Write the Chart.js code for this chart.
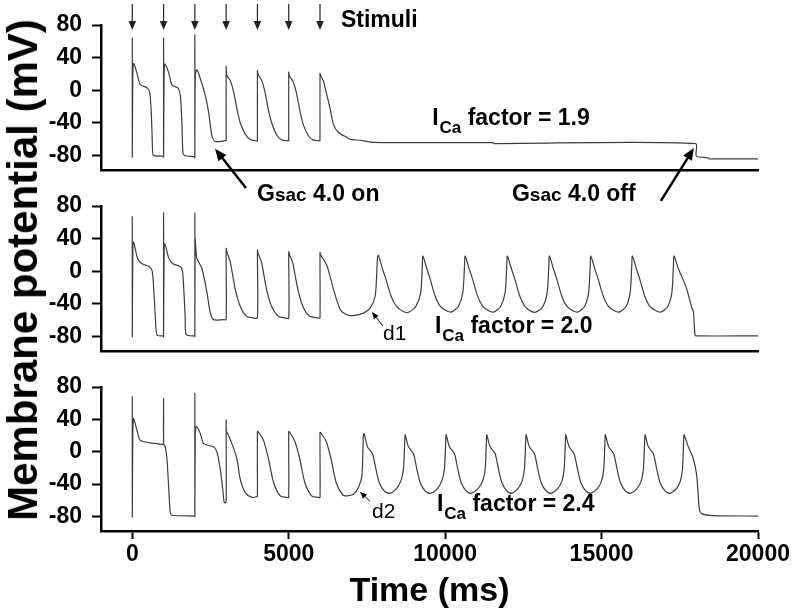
<!DOCTYPE html>
<html>
<head>
<meta charset="utf-8">
<script src="https://cdn.jsdelivr.net/npm/chart.js@4.4.1/dist/chart.umd.min.js"></script>
<style>
  body { margin: 0; background: #fff; }
  #wrap { position: relative; width: 800px; height: 614px; overflow: hidden; }
  canvas { position: absolute; left: 0; }
  #ytitle {
    position: absolute; left: 23px; top: 270px;
    transform: translate(-50%, -50%) rotate(-90deg);
    white-space: nowrap;
    font: bold 42px "Liberation Sans", Arial, sans-serif;
    color: #000;
  }
</style>
</head>
<body>
<div id="wrap">
  <canvas id="p1" width="800" height="215" style="top:0px"></canvas>
  <canvas id="p2" width="800" height="215" style="top:181px"></canvas>
  <canvas id="p3" width="800" height="252" style="top:362px"></canvas>
  <div id="ytitle">Membrane potential (mV)</div>
</div>
<script>
const stimTimes = [0, 1000, 2000, 3000, 4000, 5000, 6000];
const xTicks = [0, 5000, 10000, 15000, 20000];
const yTicks = [-80, -40, 0, 40, 80];
const caFactors = ['1.9', '2.0', '2.4'];

// [time (ms), Vm (mV)]
const vmFactor19 = [
  [0, -81], [0, 64], [0, -82], [15, 12], [40, 33], [150, 21], [255, 7], [470, 3], [555, -2], [600, -23], [630, -51], [650, -76], [680, -80], [950, -81],
  [1000, -81], [1000, 64], [1000, -82], [1015, 12], [1040, 32], [1160, 22], [1270, 6], [1450, 3], [1535, -6], [1590, -44], [1620, -77], [1690, -80.5], [1960, -81.5],
  [2000, -81.5], [2000, 68], [2000, -83], [2015, 20], [2065, 25], [2175, 14], [2330, -6], [2440, -27], [2545, -56], [2650, -63], [2970, -62],
  [3000, -62], [3000, 29], [3020, 18], [3130, 12], [3240, -2], [3345, -23], [3450, -40], [3610, -54], [3770, -60.5], [3985, -62.5],
  [4000, -62.5], [4000, 24], [4025, 19], [4135, 12], [4245, -3], [4350, -24], [4455, -40], [4615, -55], [4775, -61], [4990, -62],
  [5000, -62], [5000, 22], [5025, 17.5], [5135, 11], [5245, -3], [5350, -24], [5455, -41], [5615, -55], [5775, -61], [5990, -62],
  [6000, -62], [6000, 20.5], [6025, 18], [6110, 11], [6220, -6], [6325, -23], [6430, -42], [6590, -52], [6860, -58], [6965, -60.5],
  [7285, -61.5], [7710, -64], [11540, -64.5], [11560, -65.5], [18000, -65.5], [18030, -81], [18400, -83], [18430, -84.3], [20000, -84.3]
];

const vmFactor20 = [
  [0, -80], [0, 67.5], [0, -80.5], [15, 15], [40, 36], [170, 15.5], [310, 9], [520, 6], [630, 1], [680, -18], [735, -55.5], [790, -78.5], [950, -79.5],
  [1000, -79.5], [1000, 71.5], [1000, -80.5], [1015, 15], [1040, 34], [1165, 16], [1300, 9], [1520, 6], [1600, 1], [1640, -18], [1690, -55], [1725, -78], [1990, -79.5],
  [2000, -79.5], [2000, 71.5], [2000, -80.5], [2010, 40], [2030, 28], [2067, 15.5], [2227, 3], [2386, -26], [2492, -51], [2598, -59.5], [2917, -59.5],
  [3000, -59.5], [3000, 28], [3020, 24], [3130, 11.5], [3290, -22], [3450, -43], [3660, -55.5], [3875, -57.5],
  [4000, -57.5], [4000, 26], [4020, 22], [4130, 11], [4290, -22], [4450, -43], [4660, -55], [4875, -57.5],
  [5000, -57.5], [5000, 24], [5020, 21], [5130, 10], [5290, -22], [5450, -43], [5660, -55], [5950, -57.5],
  [6000, -57.5], [6000, 23], [6020, 20], [6220, 7], [6430, -22], [6645, -47], [6860, -53.5], [7070, -54.5], [7390, -51.5], [7605, -45], [7765, -30.5], [7840, 17.5], [7870, 19.5],
  [7995, 3], [8105, -9.5], [8270, -30.5], [8440, -43], [8660, -49.5], [8830, -50.5], [9060, -43.5], [9220, -26], [9270, 7], [9288, 18.5],
  [9415, 3], [9520, -9.5], [9680, -30.5], [9840, -43], [10055, -49], [10215, -50], [10425, -43], [10565, -26], [10620, 7], [10640, 18.5],
  [10768, 3], [10874, -9.5], [11034, -30], [11194, -42.5], [11407, -49], [11567, -50], [11777, -43], [11918, -26], [11970, 7], [11991, 18.5],
  [12119, 3], [12225, -9.5], [12385, -30.5], [12545, -43], [12758, -49.5], [12918, -50], [13128, -43], [13262, -26], [13313, 7], [13333, 18.5],
  [13461, 3], [13567, -9.5], [13727, -30.5], [13887, -43], [14100, -49], [14255, -50], [14460, -43], [14587, -26], [14636, 7], [14655, 18.5],
  [14783, 3], [14889, -9.5], [15049, -30], [15209, -42.5], [15422, -49], [15580, -50], [15786, -43], [15915, -26], [15965, 7], [15984, 18.5],
  [16112, 3], [16218, -9.5], [16378, -30.5], [16538, -43], [16751, -49], [16910, -50], [17118, -43], [17248, -26], [17297, 7], [17316, 18.5],
  [17455, 3], [17590, -9], [17723, -22], [17883, -45], [17934, -49.5], [17988, -78.5], [18042, -79.5], [20000, -79.5]
];

const vmFactor24 = [
  [0, -80], [0, 68.5], [0, -80.5], [15, 15], [40, 41], [150, 26.5], [255, 14], [575, 11], [990, 9],
  [1000, 9], [1000, 66], [1000, 9], [1020, 8], [1055, 6], [1108, -9], [1160, -42], [1214, -75.5], [1268, -78.5], [1990, -79.5],
  [2000, -79.5], [2000, 72.5], [2000, -80], [2015, 25], [2045, 31], [2175, 22.5], [2280, 10], [2600, 6], [2705, -0.5], [2810, -21], [2900, -50], [2940, -63], [3000, -62],
  [3000, 39], [3010, 25], [3045, 22.5], [3185, 10], [3345, -9], [3450, -34], [3610, -50.5], [3825, -56.5], [3985, -55.5],
  [4000, -55.5], [4000, 25], [4030, 24.5], [4195, 14], [4355, -9], [4515, -38], [4730, -54.5], [4945, -56.5],
  [5000, -56.5], [5000, 25], [5030, 24], [5195, 13], [5355, -9], [5515, -38], [5730, -54.5], [5945, -56.5],
  [6000, -56.5], [6000, 24], [6030, 23], [6195, 13], [6355, -9], [6515, -38], [6730, -53.5], [6860, -54.5], [7070, -52.5], [7230, -44], [7340, -29.5], [7387, 20.5], [7412, 22.5],
  [7518, 6], [7678, -2.5], [7785, -21], [7891, -38], [8051, -48.5], [8211, -51.5], [8424, -46.5], [8584, -36], [8667, -21.5], [8712, 16], [8722, 21],
  [8828, 6], [8988, -2.5], [9095, -21.5], [9201, -38], [9361, -48.5], [9521, -51.5], [9734, -46.5], [9894, -36], [9977, -21.5], [10022, 16], [10032, 21],
  [10138, 6], [10298, -2.5], [10405, -21.5], [10511, -38], [10671, -48.5], [10831, -51.5], [11044, -46], [11204, -35.5], [11280, -21], [11322, 16], [11332, 21],
  [11438, 6], [11598, -2.5], [11705, -21.5], [11811, -38], [11971, -48.5], [12125, -51.5], [12320, -46], [12460, -36], [12535, -21], [12578, 16], [12588, 21],
  [12694, 6], [12854, -2.5], [12961, -21.5], [13067, -38], [13227, -48.5], [13387, -51.5], [13590, -46], [13735, -36], [13805, -21], [13847, 16], [13857, 21],
  [13963, 6], [14123, -2.5], [14230, -21.5], [14336, -38], [14496, -48.5], [14655, -51.5], [14858, -46], [15000, -36], [15070, -21], [15112, 16], [15122, 21],
  [15228, 6], [15388, -2.5], [15495, -21.5], [15601, -38], [15761, -48.5], [15920, -51.5], [16124, -46], [16268, -36], [16338, -21], [16380, 16], [16390, 21],
  [16496, 6], [16656, -2.5], [16763, -21.5], [16869, -38], [17029, -48.5], [17185, -51.5], [17385, -46], [17520, -36], [17587, -21], [17626, 16], [17636, 21],
  [17774, 6], [17934, -9], [18042, -29.5], [18125, -71], [18200, -76.5], [18570, -79], [20000, -79.5]
];

const FONT = '"Liberation Sans", Arial, Helvetica, sans-serif';

function arrow(ctx, x0, y0, x1, y1, lw, head, color) {
  const a = Math.atan2(y1 - y0, x1 - x0);
  const c = Math.cos(a), s = Math.sin(a);
  ctx.save();
  ctx.strokeStyle = color;
  ctx.fillStyle = color;
  ctx.lineWidth = lw;
  ctx.beginPath();
  ctx.moveTo(x0, y0);
  ctx.lineTo(x1 - c * head * 0.8, y1 - s * head * 0.8);
  ctx.stroke();
  ctx.beginPath();
  ctx.moveTo(x1, y1);
  ctx.lineTo(x1 - head * c + head * 0.42 * s, y1 - head * s - head * 0.42 * c);
  ctx.lineTo(x1 - head * c - head * 0.42 * s, y1 - head * s + head * 0.42 * c);
  ctx.closePath();
  ctx.fill();
  ctx.restore();
}

// "I" with subscript "Ca", then " factor = x"
function factorLabel(ctx, x, y, value) {
  ctx.save();
  ctx.fillStyle = '#000';
  ctx.textBaseline = 'alphabetic';
  ctx.font = 'bold 23px ' + FONT;
  ctx.fillText('I', x, y);
  let w = ctx.measureText('I').width + 1;
  ctx.font = 'bold 17px ' + FONT;
  ctx.fillText('Ca', x + w, y + 8);
  w += ctx.measureText('Ca').width;
  ctx.font = 'bold 23px ' + FONT;
  ctx.fillText(' factor = ' + value, x + w, y);
  ctx.restore();
}

function gsacLabel(ctx, x, y, state) {
  ctx.save();
  ctx.fillStyle = '#000';
  ctx.textBaseline = 'alphabetic';
  ctx.font = 'bold 23px ' + FONT;
  ctx.fillText('G', x, y);
  let w = ctx.measureText('G').width;
  ctx.font = 'bold 19px ' + FONT;
  ctx.fillText('sac', x + w, y);
  w += ctx.measureText('sac').width;
  ctx.font = 'bold 23px ' + FONT;
  ctx.fillText(' 4.0 ' + state, x + w, y);
  ctx.restore();
}

function plainLabel(ctx, text, x, y) {
  ctx.save();
  ctx.fillStyle = '#000';
  ctx.textBaseline = 'alphabetic';
  ctx.font = '21px ' + FONT;
  ctx.fillText(text, x, y);
  ctx.restore();
}

function makePanel(id, trace, isBottom, notes) {
  return new Chart(document.getElementById(id), {
    type: 'line',
    data: {
      datasets: [{
        data: trace.map(p => ({ x: p[0], y: p[1] })),
        borderColor: '#3c3c3c',
        borderWidth: 1.2,
        pointRadius: 0,
        tension: 0.25,
        fill: false
      }]
    },
    options: {
      responsive: false,
      animation: false,
      events: [],
      layout: { padding: { top: 25, right: 42, left: 0, bottom: isBottom ? 0 : 45 } },
      plugins: { legend: { display: false }, tooltip: { enabled: false } },
      scales: {
        x: {
          type: 'linear',
          min: -1000,
          max: 20000,
          afterBuildTicks: axis => { axis.ticks = xTicks.map(v => ({ value: v })); },
          afterFit: axis => { axis.height = isBottom ? 83 : 0; },
          border: { display: true, color: '#000', width: 2.5 },
          grid: { display: isBottom, drawOnChartArea: false, tickLength: 8, tickWidth: 2, tickColor: '#000', color: '#000' },
          ticks: {
            display: isBottom, color: '#000', padding: 2, maxRotation: 0, autoSkip: false,
            callback: v => String(v),
            font: { family: FONT, size: 23, weight: 'bold' }
          },
          title: {
            display: isBottom, text: 'Time (ms)', color: '#000',
            font: { family: FONT, size: 34, weight: 'bold', lineHeight: 1 },
            padding: { top: 0, bottom: 5 }
          }
        },
        y: {
          min: -98,
          max: 80,
          afterBuildTicks: axis => { axis.ticks = yTicks.map(v => ({ value: v })); },
          afterFit: axis => { axis.width = 101; },
          border: { display: true, color: '#000', width: 2.5 },
          grid: { drawOnChartArea: false, tickLength: 9, tickWidth: 2, tickColor: '#000', color: '#000' },
          ticks: {
            color: '#000', padding: 10,
            font: { family: FONT, size: 23, weight: 'bold' }
          }
        }
      }
    },
    plugins: [{ id: 'notes', afterDraw: notes }]
  });
}

makePanel('p1', vmFactor19, false, chart => {
  const ctx = chart.ctx, x = chart.scales.x, y = chart.scales.y;
  stimTimes.forEach(t => {
    const px = x.getPixelForValue(t);
    arrow(ctx, px, 4, px, 30, 1.2, 9, '#222');
  });
  ctx.save();
  ctx.fillStyle = '#000';
  ctx.font = 'bold 23px ' + FONT;
  ctx.fillText('Stimuli', x.getPixelForValue(6670), 27);
  ctx.restore();
  factorLabel(ctx, x.getPixelForValue(9585), y.getPixelForValue(-42.8), caFactors[0]);
  gsacLabel(ctx, x.getPixelForValue(3986), y.getPixelForValue(-136), 'on');
  arrow(ctx, x.getPixelForValue(3634), y.getPixelForValue(-120), x.getPixelForValue(2643), y.getPixelForValue(-72), 2.5, 12, '#000');
  gsacLabel(ctx, x.getPixelForValue(12136), y.getPixelForValue(-136), 'off');
  arrow(ctx, x.getPixelForValue(16897), y.getPixelForValue(-136), x.getPixelForValue(17952), y.getPixelForValue(-71), 2.5, 12, '#000');
});

makePanel('p2', vmFactor20, false, chart => {
  const ctx = chart.ctx, x = chart.scales.x, y = chart.scales.y;
  factorLabel(ctx, x.getPixelForValue(9674), y.getPixelForValue(-75.9), caFactors[1]);
  plainLabel(ctx, 'd1', x.getPixelForValue(8012), y.getPixelForValue(-84.5));
  arrow(ctx, x.getPixelForValue(8012), y.getPixelForValue(-67.3), x.getPixelForValue(7660), y.getPixelForValue(-50.1), 1, 7, '#000');
});

makePanel('p3', vmFactor24, true, chart => {
  const ctx = chart.ctx, x = chart.scales.x, y = chart.scales.y;
  factorLabel(ctx, x.getPixelForValue(9738), y.getPixelForValue(-73), caFactors[2]);
  plainLabel(ctx, 'd2', x.getPixelForValue(7661), y.getPixelForValue(-82.3));
  arrow(ctx, x.getPixelForValue(7597), y.getPixelForValue(-61.2), x.getPixelForValue(7277), y.getPixelForValue(-49.6), 1, 7, '#000');
});
</script>
</body>
</html>
